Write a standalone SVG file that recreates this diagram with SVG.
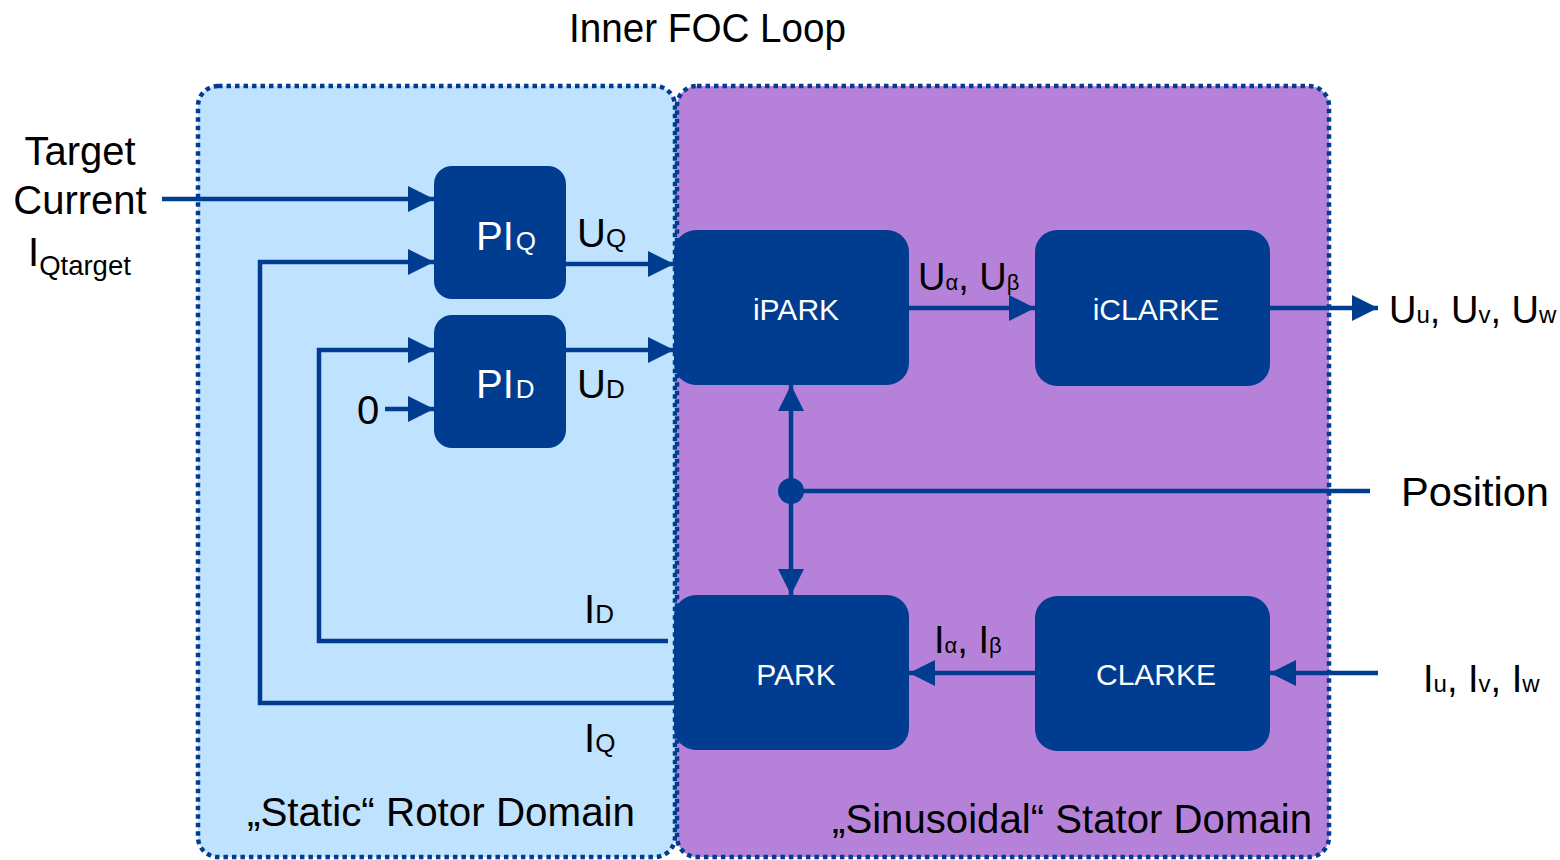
<svg xmlns="http://www.w3.org/2000/svg" width="1560" height="860" viewBox="0 0 1560 860">
<style>
text{font-family:"Liberation Sans",Arial,sans-serif;fill:#000}
.big{font-size:40px}
.sub{font-size:26px}
.mid{font-size:38px}
.s24{font-size:24px}
.s22{font-size:22px}
.node{fill:#003d91}
.nlab{font-size:30px;fill:#fff;text-anchor:middle}
.pil{font-size:40px;fill:#fff}
.pil tspan{fill:#fff}
.wire{stroke:#003d91;stroke-width:4.5;fill:none}
.arr{marker-end:url(#ah)}
.dom{stroke:#003d91;stroke-width:4.5;stroke-dasharray:4.5 4}
</style>
<defs>
<marker id="ah" markerUnits="userSpaceOnUse" markerWidth="26" markerHeight="26" viewBox="0 0 26 26" refX="26" refY="13" orient="auto-start-reverse">
<path d="M0,0 L26,13 L0,26 z" fill="#003d91"/>
</marker>
</defs>
<rect width="1560" height="860" fill="#fff"/>
<g id="domains">
<rect id="rotor-domain" class="dom" x="198" y="86" width="477" height="771" rx="20" fill="#bfe2fe"/>
<rect id="stator-domain" class="dom" x="677" y="86" width="652" height="771" rx="20" fill="#b682d9"/>
</g>
<text class="big" x="569" y="42" textLength="277" lengthAdjust="spacingAndGlyphs">Inner FOC Loop</text>
<g id="connectors">
<line class="wire arr" x1="162" y1="199" x2="434" y2="199"/>
<polyline class="wire arr" points="674,703 260,703 260,262 434,262"/>
<polyline class="wire arr" points="668,641 319,641 319,350 434,350"/>
<line class="wire arr" x1="385" y1="409" x2="434" y2="409"/>
<line class="wire arr" x1="566" y1="264" x2="674" y2="264"/>
<line class="wire arr" x1="566" y1="350" x2="674" y2="350"/>
<line class="wire arr" x1="909" y1="308" x2="1035" y2="308"/>
<line class="wire arr" x1="1270" y1="308" x2="1378" y2="308"/>
<line class="wire arr" x1="1035" y1="673" x2="909" y2="673"/>
<line class="wire arr" x1="1378" y1="673" x2="1270" y2="673"/>
<line class="wire" x1="791" y1="491" x2="1370" y2="491"/>
<line class="wire" x1="791" y1="385" x2="791" y2="595" style="marker-start:url(#ah);marker-end:url(#ah)"/>
<circle cx="791" cy="491" r="13" fill="#003d91"/>
</g>
<g id="piq">
<rect class="node" x="434" y="166" width="132" height="133" rx="18"/>
<text class="pil" x="476" y="250">PI<tspan class="sub" dx="2">Q</tspan></text>
</g>
<g id="pid">
<rect class="node" x="434" y="315" width="132" height="133" rx="18"/>
<text class="pil" x="476" y="398">PI<tspan class="sub" dx="2">D</tspan></text>
</g>
<g id="ipark">
<rect class="node" x="674" y="230" width="235" height="155" rx="22"/>
<text class="nlab" x="796" y="320">iPARK</text>
</g>
<g id="iclarke">
<rect class="node" x="1035" y="230" width="235" height="156" rx="22"/>
<text class="nlab" x="1156" y="320">iCLARKE</text>
</g>
<g id="park">
<rect class="node" x="674" y="595" width="235" height="155" rx="22"/>
<text class="nlab" x="796" y="685">PARK</text>
</g>
<g id="clarke">
<rect class="node" x="1035" y="596" width="235" height="155" rx="22"/>
<text class="nlab" x="1156" y="685">CLARKE</text>
</g>
<g id="labels">
<text class="big" x="80" y="165" text-anchor="middle">Target</text>
<text class="big" x="80" y="214" text-anchor="middle">Current</text>
<text class="big" x="28" y="266">I<tspan dy="9" style="font-size:27.5px">Qtarget</tspan></text>
<text class="big" x="577" y="247">U<tspan class="sub">Q</tspan></text>
<text class="big" x="577" y="398">U<tspan class="sub">D</tspan></text>
<text class="big" x="357" y="424">0</text>
<text class="big" x="584" y="623">I<tspan class="sub">D</tspan></text>
<text class="big" x="584" y="752">I<tspan class="sub">Q</tspan></text>
<text class="mid" x="918" y="290">U<tspan class="s22">α</tspan>, U<tspan class="s22">β</tspan></text>
<text class="mid" x="934" y="653">I<tspan class="s22">α</tspan>, I<tspan class="s22">β</tspan></text>
<text class="mid" x="1389" y="323">U<tspan class="s24">u</tspan>, U<tspan class="s24">v</tspan>, U<tspan class="s24">w</tspan></text>
<text class="mid" x="1423" y="692">I<tspan class="s24">u</tspan>, I<tspan class="s24">v</tspan>, I<tspan class="s24">w</tspan></text>
<text class="big" x="1401" y="506" textLength="148" lengthAdjust="spacingAndGlyphs">Position</text>
<text class="big" x="247" y="826" textLength="388" lengthAdjust="spacingAndGlyphs">„Static“ Rotor Domain</text>
<text class="big" x="832" y="833" textLength="480" lengthAdjust="spacingAndGlyphs">„Sinusoidal“ Stator Domain</text>
</g>
</svg>
